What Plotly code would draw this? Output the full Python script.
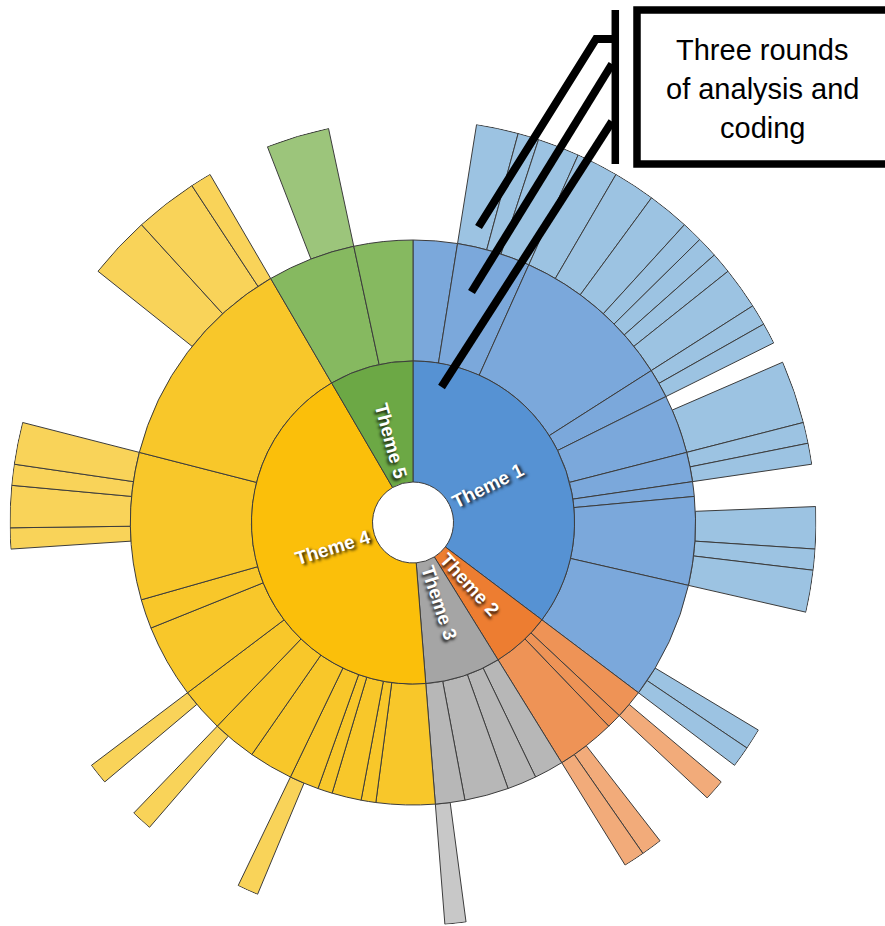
import numpy as np
import plotly.graph_objects as go

# ---- canvas / polar geometry (pixels) ----
W, H = 885, 926
CX, CY = 413.0, 522.5          # centre of the sunburst
R_PLOT = 403.5                 # radius of the polar area
RING_EDGES = [40.5, 161.5, 282.5, 403.0]

# ---- data ----
theme_names = ["Theme 1", "Theme 2", "Theme 3", "Theme 4", "Theme 5"]

# second round: sub-themes (theme index, number of coded units)
sub_theme = [0] * 9 + [1] * 3 + [2] * 4 + [3] * 12 + [4] * 2
sub_size = [3, 5, 11, 2, 4, 2, 1, 6, 8,
            2, 1, 4,
            2, 2, 3, 2,
            4, 1, 2, 1, 2, 3, 3, 3, 5, 2, 10, 15,
            6, 4]

# third round: codes (parent sub-theme, units, drawn or not)
code_sub = [1, 1, 1, 2, 2, 2, 2, 2, 2, 2, 3, 3, 4, 4, 5, 5, 7, 7, 7, 7,
            8, 8, 8, 9, 9, 11, 11, 11, 15, 15, 20, 20, 22, 22, 23, 23,
            26, 26, 26, 26, 26, 27, 27, 27, 27, 28, 28]
code_size = [2, 1, 2, 2, 2, 2, 1, 1, 1, 2, 1, 1, 1, 3, 1, 1, 1, 2, 1, 2,
             6, 1, 1, 1, 1, 2, 1, 1, 1, 1, 1, 1, 2, 1, 2, 1,
             4, 1, 2, 1, 2, 8, 3, 3, 1, 3, 3]
code_shown = [1, 1, 1, 1, 1, 1, 1, 1, 1, 1, 1, 1, 0, 1, 1, 1, 0, 1, 1, 1,
              0, 1, 1, 0, 1, 0, 1, 1, 0, 1, 0, 1, 0, 1, 0, 1,
              0, 1, 1, 1, 1, 0, 1, 1, 1, 0, 1]

# colours per theme: inner ring, second ring, outer ring
ring1_colors = ["#5692D3", "#ED7D31", "#A5A5A5", "#FBBF0A", "#6CA845"]
ring2_colors = ["#7BA8DB", "#EE9356", "#B7B7B7", "#F8C72A", "#86B960"]
ring3_colors = ["#9CC3E2", "#F2AB7A", "#C8C8C8", "#F9D359", "#9CC57B"]

callout_lines = ["Three rounds", "of analysis and", "coding"]

# ---- angular layout ----
total_units = sum(sub_size)
unit_deg = 360.0 / total_units

sub_start = np.concatenate([[0], np.cumsum(sub_size)[:-1]])
theme_size = [sum(s for s, t in zip(sub_size, sub_theme) if t == k)
              for k in range(len(theme_names))]
theme_start = np.concatenate([[0], np.cumsum(theme_size)[:-1]])

code_start = []
offset = {}
for s, n in zip(code_sub, code_size):
    o = offset.get(s, 0)
    code_start.append(sub_start[s] + o)
    offset[s] = o + n

OUTLINE = dict(color="#3C3C3C", width=1)


def ring_trace(starts, sizes, colors, r_in, r_out):
    starts = np.asarray(starts, float)
    sizes = np.asarray(sizes, float)
    return go.Barpolar(
        theta=(starts + sizes / 2) * unit_deg,
        width=sizes * unit_deg,
        base=[r_in] * len(sizes),
        r=[r_out - r_in] * len(sizes),
        marker=dict(color=colors, line=OUTLINE),
        hoverinfo="skip",
        showlegend=False,
    )


fig = go.Figure()

# outer ring (only the codes that are drawn)
vis = [i for i, v in enumerate(code_shown) if v]
fig.add_trace(ring_trace([code_start[i] for i in vis],
                         [code_size[i] for i in vis],
                         [ring3_colors[sub_theme[code_sub[i]]] for i in vis],
                         RING_EDGES[2], RING_EDGES[3]))
# second ring
fig.add_trace(ring_trace(sub_start, sub_size,
                         [ring2_colors[t] for t in sub_theme],
                         RING_EDGES[1], RING_EDGES[2]))
# inner ring
fig.add_trace(ring_trace(theme_start, theme_size, ring1_colors,
                         RING_EDGES[0], RING_EDGES[1]))


def paper(x, y):
    return x / W, 1 - y / H


annotations = []
# radial theme labels, starting just outside the hole
LABEL_R = 84.0
for k, name in enumerate(theme_names):
    phi = (theme_start[k] + theme_size[k] / 2) * unit_deg
    px = CX + LABEL_R * np.sin(np.radians(phi))
    py = CY - LABEL_R * np.cos(np.radians(phi))
    ang = phi - 90 if phi < 180 else phi - 270
    ax, ay = paper(px, py)
    annotations.append(dict(
        x=ax, y=ay, xref="paper", yref="paper", text=name, showarrow=False,
        textangle=ang, xanchor="center", yanchor="middle",
        font=dict(family="Liberation Sans, Arial", size=19, color="white",
                  weight="bold", shadow="2px 2px 3px rgba(0,0,0,0.85)"),
    ))

# callout text
for i, line in enumerate(callout_lines):
    ax, ay = paper(762.5, 50 + 39 * i)
    annotations.append(dict(
        x=ax, y=ay, xref="paper", yref="paper", text=line, showarrow=False,
        xanchor="center", yanchor="middle",
        font=dict(family="Liberation Sans, Arial", size=29, color="black"),
    ))


def path(points):
    pts = [paper(x, y) for x, y in points]
    return "M " + " L ".join(f"{x:.5f},{y:.5f}" for x, y in pts)


BLACK = dict(color="black", width=8)
shapes = [
    # callout box (runs off the right edge)
    dict(type="path", xref="paper", yref="paper",
         path=path([(905, 10), (637, 10), (637, 164), (905, 164)]),
         line=dict(color="black", width=7.5)),
    # bracket spine
    dict(type="path", xref="paper", yref="paper",
         path=path([(615.3, 10), (615.3, 164)]),
         line=dict(color="black", width=7.5)),
    # pointers to the three rings
    dict(type="path", xref="paper", yref="paper",
         path=path([(612, 39), (596, 39), (478.5, 227)]), line=BLACK),
    dict(type="path", xref="paper", yref="paper",
         path=path([(612, 64), (471.5, 292)]), line=BLACK),
    dict(type="path", xref="paper", yref="paper",
         path=path([(612, 121.5), (441.5, 387)]), line=BLACK),
]

fig.update_layout(
    width=W, height=H,
    margin=dict(l=0, r=0, t=0, b=0, pad=0),
    paper_bgcolor="white",
    plot_bgcolor="white",
    polar=dict(
        domain=dict(x=[(CX - R_PLOT) / W, (CX + R_PLOT) / W],
                    y=[1 - (CY + R_PLOT) / H, 1 - (CY - R_PLOT) / H]),
        bgcolor="white",
        bargap=0,
        radialaxis=dict(visible=False, range=[0, R_PLOT]),
        angularaxis=dict(visible=False, rotation=90, direction="clockwise"),
    ),
    annotations=annotations,
    shapes=shapes,
    showlegend=False,
)

fig.write_html("out.html")
